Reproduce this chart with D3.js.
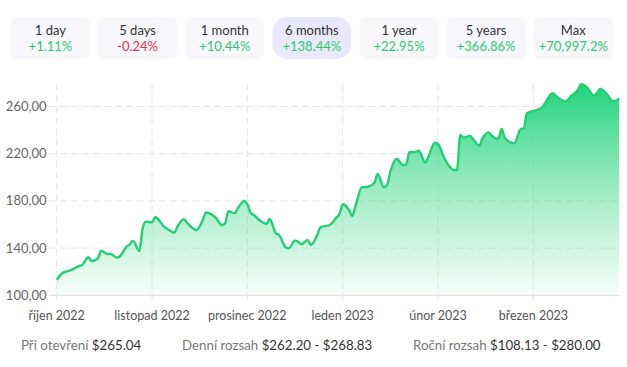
<!DOCTYPE html>
<html><head><meta charset="utf-8">
<script src="https://cdn.jsdelivr.net/npm/d3@7"></script>
<style>
html,body{margin:0;padding:0;background:#fff;}
svg{display:block;font-family:Lato, "Open Sans", sans-serif;}
</style></head>
<body>
<svg id="c" width="627" height="367"></svg>
<script>
// ---- data ----
const periods = ["1 day","5 days","1 month","6 months","1 year","5 years","Max"];
const changes = ["+1.11%","-0.24%","+10.44%","+138.44%","+22.95%","+366.86%","+70,997.2%"];
const activePeriod = "6 months";

const monthLabels = ["říjen 2022","listopad 2022","prosinec 2022","leden 2023","únor 2023","březen 2023"];
const monthStart = [0,30,60,90,120,150];   // day index of each month tick
const yTicks = [100,140,180,220,260];

const day = [0,2,3,5,7,8,10,11,13,14,16,17,19,20,22,23,24,26,27,28,30,31,34,35,37,38,40,41,44,46,47,48,50,52,53,54,56,57,59,60,61,62,64,66,67,69,70,72,73,75,76,77,79,80,82,83,86,88,89,90,92,93,94,96,98,100,101,103,104,105,107,109,110,111,113,114,116,117,119,120,122,124,125,126,127,128,130,131,133,134,136,137,139,140,141,143,144,146,147,148,151,153,154,156,158,160,162,164,165,167,169,170,171,173,175,176,177];
const price = [113,119.2,120,122,124.8,125.7,132.2,129,131.3,137.8,135,135,131.9,133.3,141.2,143.2,146,137.5,155.9,162.4,161.9,166.1,157.6,155.9,153,158.1,164.4,161.5,155.3,163.8,170.3,169.5,166.1,159.6,161,171.2,169.5,173.7,179.9,177.4,170,168,163.2,160.4,164.7,152.5,151.1,140.7,139.8,146.3,145.4,143.2,146.9,142.6,151.1,157.6,159.6,165.8,168.9,177.1,172.3,167.2,175.1,191.5,192,195.4,202.8,191.5,193.5,204.7,215.5,210.4,211,221.2,221.7,222.5,212.4,217.5,229.3,228.2,216.1,208,206.2,206.2,235.8,233.6,235,232.5,226.8,233,238.1,235,232.5,240.9,233.6,229.3,228.8,240.7,241.5,254.2,257,259.8,264.1,271.2,267,264.1,269.2,274,278.8,275.9,269.2,271.2,274.8,271.2,264.7,264.7,267];

const statLabels = ["Při otevření","Denní rozsah","Roční rozsah"];
const statValues = ["$265.04","$262.20 - $268.83","$108.13 - $280.00"];

// ---- drawing ----
const svg = d3.select("#c");
const green = "#22cf72";

// buttons
const bx = d3.scaleBand().domain(periods).range([11, 612.7]).paddingInner(0.095).paddingOuter(0);
const btn = svg.append("g").selectAll("g").data(periods).join("g")
  .attr("transform", d => `translate(${bx(d)},17)`);
btn.append("rect")
  .attr("width", bx.bandwidth()).attr("height", 42)
  .attr("rx", d => d === activePeriod ? 15 : 7)
  .attr("fill", d => d === activePeriod ? "#e9e9fb" : "#f8f7fc");
btn.append("text").text(d => d)
  .attr("x", bx.bandwidth()/2).attr("y", 17.5)
  .attr("text-anchor","middle").attr("font-size",13).attr("fill","#333");
btn.append("text").text((d,i) => changes[i])
  .attr("x", bx.bandwidth()/2).attr("y", 33.5)
  .attr("text-anchor","middle").attr("font-size",13)
  .attr("fill",(d,i) => changes[i].startsWith("-") ? "#e5324e" : "#2ccb6f");

// chart
const x = d3.scaleLinear().domain([0,150]).range([56.7,533.3]);
const y = d3.scaleLinear().domain([100,280]).range([295.3,82.9]);
const data = day.map((d,i)=>({d, p:price[i]}));

const defs = svg.append("defs");
const grad = defs.append("linearGradient").attr("id","g")
  .attr("gradientUnits","userSpaceOnUse").attr("x1",0).attr("y1",y(280)).attr("x2",0).attr("y2",y(100));
grad.append("stop").attr("offset","0%").attr("stop-color","#1fd37a").attr("stop-opacity",1);
grad.append("stop").attr("offset","55%").attr("stop-color","#3fd88a").attr("stop-opacity",0.45);
grad.append("stop").attr("offset","100%").attr("stop-color","#3fd88a").attr("stop-opacity",0.04);

// horizontal grid
svg.append("g").selectAll("line").data(yTicks.filter(t=>t>100)).join("line")
  .attr("x1",49).attr("x2",620).attr("y1",d=>y(d)).attr("y2",d=>y(d))
  .attr("stroke","#e6e6e6").attr("stroke-dasharray","7,4");
// vertical grid
svg.append("g").selectAll("line").data(monthStart).join("line")
  .attr("x1",d=>x(d)).attr("x2",d=>x(d)).attr("y1",84).attr("y2",300)
  .attr("stroke","#e6e6e6").attr("stroke-dasharray","7,4");

// area + line
const curve = d3.curveMonotoneX;
svg.append("path").datum(data)
  .attr("d", d3.area().x(d=>x(d.d)).y0(y(100)).y1(d=>y(d.p)).curve(curve))
  .attr("fill","url(#g)");
svg.append("path").datum(data)
  .attr("d", d3.line().x(d=>x(d.d)).y(d=>y(d.p)).curve(curve))
  .attr("fill","none").attr("stroke",green).attr("stroke-width",2.4).attr("stroke-linejoin","round");

// bottom axis line
svg.append("line").attr("x1",49).attr("x2",620).attr("y1",y(100)).attr("y2",y(100))
  .attr("stroke","#dcdcdc");

// y labels
svg.append("g").selectAll("text").data(yTicks).join("text")
  .text(d => d3.format(".2f")(d).replace(".",","))
  .attr("x",46.5).attr("y",d=>y(d)+4.5).attr("text-anchor","end")
  .attr("font-size",13).attr("fill","#666");

// x labels
svg.append("g").selectAll("text").data(monthStart).join("text")
  .text((d,i)=>monthLabels[i])
  .attr("x",d=>x(d)).attr("y",320).attr("text-anchor","middle")
  .attr("font-size",12.5).attr("fill","#555");

// stats
const statX = [21,182,413];
const st = svg.append("g").selectAll("text").data(statLabels).join("text")
  .attr("x",(d,i)=>statX[i]).attr("y",350).attr("font-size",13.3);
st.append("tspan").text(d=>d+" ").attr("fill","#777");
st.append("tspan").text((d,i)=>statValues[i]).attr("fill","#333");
</script>
</body></html>
